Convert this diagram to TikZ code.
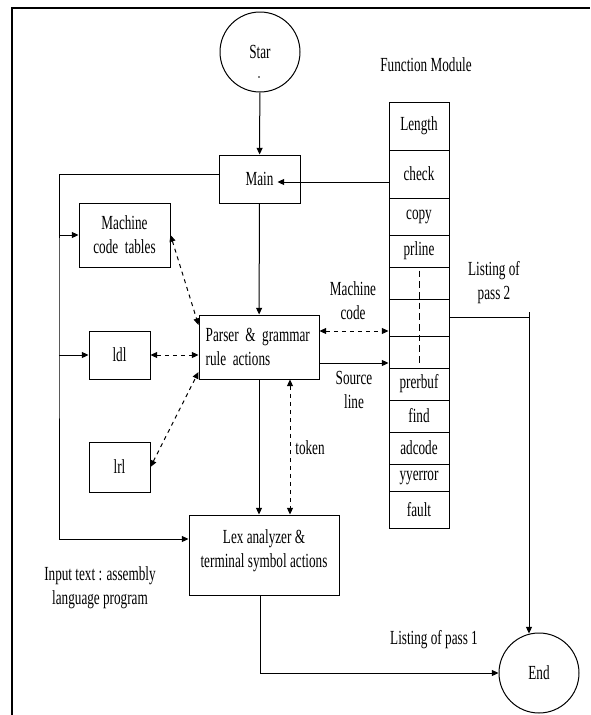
\documentclass[tikz,border=0pt]{standalone}
\usepackage{fontspec}
\setmainfont{Liberation Serif}[FakeStretch=0.66]
\usetikzlibrary{arrows.meta,calc}
\tikzset{
  box/.style={draw, line width=0.75pt, align=center, inner sep=2pt},
  term/.style={draw, circle, line width=0.75pt, minimum size=60pt, inner sep=0pt, align=center},
  cell/.style={draw, line width=0.75pt, minimum width=45pt, inner sep=0pt},
  flow/.style={->, line width=0.75pt},
  link/.style={<->, dashed, line width=0.75pt},
  txt/.style={align=center, inner sep=0pt}
}
\begin{document}
\begin{tikzpicture}[x=0.75pt, y=-0.75pt, font=\fontsize{15}{18}\selectfont,
  >={Triangle[length=5pt,width=4.5pt]}]
  \useasboundingbox (0,0) rectangle (590,715);
  \draw[line width=1.5pt] (12,715) -- (12,8) -- (590,8);
  % start, end and the main boxes
  \node[term] (star) at (260,52) {Star};
  \fill ($(star.center)+(-1,25)$) circle (0.8);
  \node[term] (end) at (539,673) {End};
  \node[box, minimum width=60.75pt, minimum height=36pt] (main) at (259.5,179) {Main};
  \node[box, minimum width=68.25pt, minimum height=48pt] (mct) at (124.5,235) {Machine\\code~~tables};
  \node[box, minimum width=45.75pt, minimum height=36pt] (ldl) at (119.5,355) {ldl};
  \node[box, minimum width=45.75pt, minimum height=37.5pt] (lrl) at (119.5,467) {lrl};
  \node[box, minimum width=90pt, minimum height=48pt, text width=80pt, inner xsep=5pt, align=left] (parser) at (259,347) {Parser \& grammar\\rule actions};
  \node[box, minimum width=112.5pt, minimum height=60pt, text depth=9pt] (lex) at (264,555) {Lex analyzer \&\\terminal symbol actions};
  % function module column
  \node[txt] (fmod) at (426,65) {Function Module};
  \foreach \nm/\cy/\hh/\tx in {length/126/36/Length, check/174/36/check, copy/216.5/27.75/copy,
      prline/251/24/prline, e1/283/24/{}, e2/317.5/27.75/{}, e3/352/24/{},
      prerbuf/384/24/prerbuf, find/416/24/find, adcode/448/24/adcode,
      yyerror/477.5/20.25/yyerror, fault/509.5/27.75/fault}
    \node[cell, minimum height=\hh pt] (\nm) at (419,\cy) {\tx};
  \draw[line width=0.75pt, dash pattern=on 5pt off 3pt] ([yshift=-3pt]e1.north) -- ([yshift=4.5pt]e3.south);
  % labels
  \node[txt] (mclab) at (353,301) {Machine\\code};
  \node[txt] (srclab) at (354,390) {Source\\line};
  \node[txt] (l2lab) at (494,283) {Listing of\\pass 2};
  \node[txt] (toklab) at (310,448) {token};
  \node[txt] (l1lab) at (434,640) {Listing of pass 1};
  \node[txt] (inlab) at (100,588) {Input text : assembly\\language program};
  % connectors
  \coordinate (rail) at (59,300);
  \coordinate (l2top) at (529,312);
  \draw[flow] (star) -- (main);
  \draw[flow] ([yshift=-6pt]check.west) -- ($(main.east |- check.west)+(-23,8)$);
  \draw[flow] ([yshift=3.75pt]main.west) -| (rail) |- ([yshift=12pt]lex.west);
  \draw[flow] (rail |- mct.west) -- (mct.west);
  \draw[flow] (rail |- ldl.west) -- (ldl.west);
  \draw[flow] (main) -- (parser);
  \draw[flow] (parser.south) -- (parser.south |- lex.north);
  \draw[link] ([xshift=23.25pt]parser.south) -- ([xshift=23.25pt]parser.south |- lex.north);
  \draw[link] (mct.east) -- ([yshift=16.5pt]parser.west);
  \draw[link] (ldl.east) -- (ldl.east -| parser.west);
  \draw[link] (lrl.east) -- ([yshift=-18.75pt]parser.west);
  \draw[link] ([yshift=12pt]parser.east) -- ([yshift=12pt]parser.east -| e2.west);
  \draw[flow] ([yshift=-12pt]parser.east) -- ([yshift=-12pt]parser.east -| e3.west);
  \draw[line width=0.75pt] (e2.east) -- (e2.east -| l2top);
  \draw[flow] (l2top) -- ($(l2top |- end.north)+(0,1)$);
  \draw[flow] ([xshift=-3pt]lex.south) |- (end.west);
\end{tikzpicture}
\end{document}
